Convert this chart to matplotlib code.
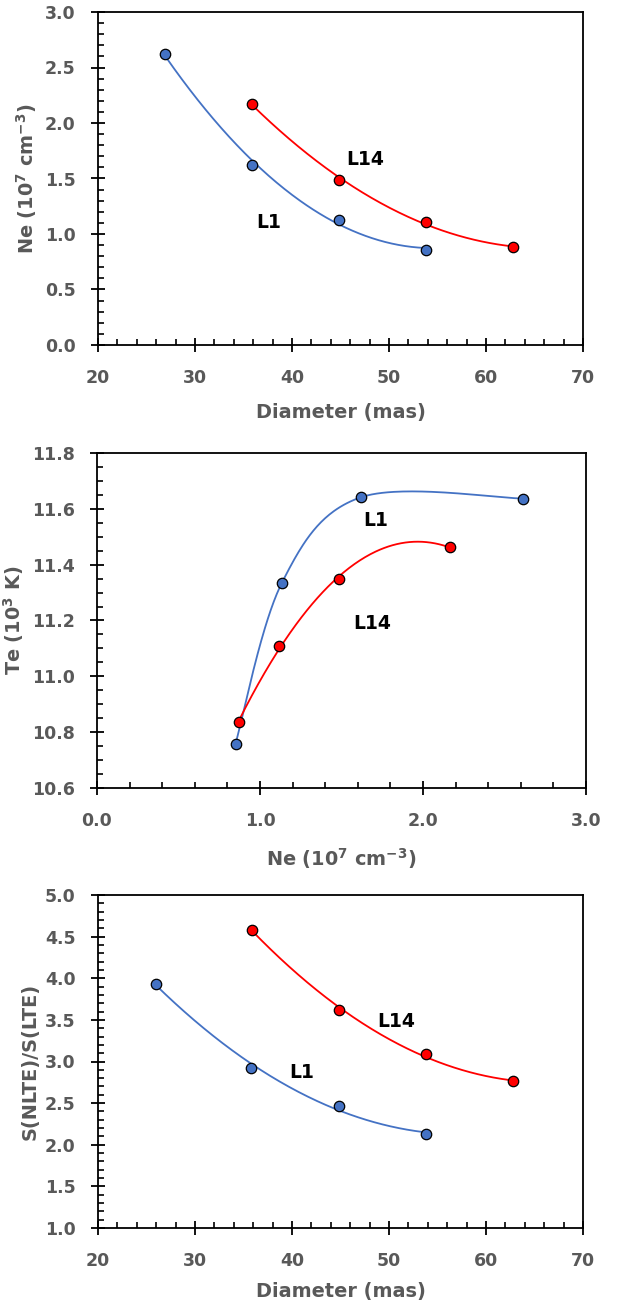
import numpy as np
from matplotlib import pyplot as plt
from matplotlib.ticker import MultipleLocator

plt.rcParams["font.family"] = ["DejaVu Sans"]
plt.rcParams["font.weight"] = "bold"
plt.rcParams["mathtext.fontset"] = "dejavusans"
plt.rcParams["mathtext.default"] = "bf"

GRAY = "#595959"
BLUE = "#4472C4"
RED = "#FF0000"

# panel 1: Ne vs diameter
diam_l1 = [26.9, 35.9, 44.8, 53.8]
ne_l1 = [2.62, 1.62, 1.13, 0.86]
diam_l14 = [35.9, 44.8, 53.8, 62.8]
ne_l14 = [2.17, 1.49, 1.11, 0.88]

# panel 2: Te vs Ne
te_ne_l1 = [0.85, 1.135, 1.617, 2.612]
te_l1 = [10.759, 11.336, 11.641, 11.637]
te_ne_l14 = [0.872, 1.116, 1.484, 2.164]
te_l14 = [10.837, 11.109, 11.350, 11.463]

# panel 3: S(NLTE)/S(LTE) vs diameter
s_diam_l1 = [26.0, 35.8, 44.8, 53.8]
s_l1 = [3.93, 2.92, 2.47, 2.13]
s_diam_l14 = [35.9, 44.8, 53.8, 62.8]
s_l14 = [4.58, 3.62, 3.09, 2.76]


def smooth(x, y, n=60):
    # excel-like smoothed line: bezier segments, tangents from neighbours / 6
    p = np.column_stack([x, y]).astype(float)
    ext = np.vstack([p[0], p, p[-1]])
    t = np.linspace(0, 1, n)[:, None]
    out = []
    for i in range(len(p) - 1):
        a, b = p[i], p[i + 1]
        c1 = a + (ext[i + 2] - ext[i]) / 6
        c2 = b - (ext[i + 3] - ext[i + 1]) / 6
        out.append((1 - t) ** 3 * a + 3 * (1 - t) ** 2 * t * c1 + 3 * (1 - t) * t ** 2 * c2 + t ** 3 * b)
    out = np.vstack(out)
    return out[:, 0], out[:, 1]


def trend(ax, x, y, deg, color):
    if deg == 0:
        xs, ys = smooth(x, y)
    else:
        c = np.polyfit(x, y, deg)
        xs = np.linspace(min(x), max(x), 200)
        ys = np.polyval(c, xs)
    ax.plot(xs, ys, color=color, lw=1.3, zorder=2)
    ax.plot(x, y, "o", ms=7.5, mfc=color, mec="black", mew=0.9, zorder=3)


def style(ax, xlim, ylim, xmaj, xmin, ymaj, ymin, xfmt, yfmt):
    ax.set_xlim(*xlim)
    ax.set_ylim(*ylim)
    ax.xaxis.set_major_locator(MultipleLocator(xmaj))
    ax.xaxis.set_minor_locator(MultipleLocator(xmin))
    ax.yaxis.set_major_locator(MultipleLocator(ymaj))
    ax.yaxis.set_minor_locator(MultipleLocator(ymin))
    ax.xaxis.set_major_formatter(xfmt)
    ax.yaxis.set_major_formatter(yfmt)
    for s in ax.spines.values():
        s.set_linewidth(1.3)
    ax.tick_params(which="major", direction="inout", length=10, width=1.3,
                   labelsize=12.5, labelcolor=GRAY)
    ax.tick_params(which="minor", direction="in", length=4, width=1.2)
    ax.tick_params(axis="y", which="major", pad=11)
    ax.tick_params(axis="x", which="major", pad=12)


def lbl(ax, xl, yl, xpad, ypad):
    ax.set_xlabel(xl, fontsize=13.9, color=GRAY, fontweight="bold", labelpad=xpad)
    ax.set_ylabel(yl, fontsize=13.9, color=GRAY, fontweight="bold", labelpad=ypad)


def note(ax, x, y, s):
    ax.text(x, y, s, fontsize=13.5, fontweight="bold", ha="center", va="center")


fig = plt.figure(figsize=(6.17, 13.11), dpi=100)

ax1 = fig.add_axes([98 / 617, 1 - 345 / 1311, 485 / 617, 333 / 1311])
trend(ax1, diam_l1, ne_l1, 2, BLUE)
trend(ax1, diam_l14, ne_l14, 2, RED)
style(ax1, (20, 70), (0, 3), 10, 2, 0.5, 0.1, "{x:.0f}", "{x:.1f}")
lbl(ax1, "Diameter (mas)", "Ne (10$^{7}$ cm$^{-3}$)", 12, 4)
note(ax1, 47.5, 1.67, "L14")
note(ax1, 37.6, 1.1, "L1")

ax2 = fig.add_axes([97 / 617, 1 - 788 / 1311, 489 / 617, 335 / 1311])
trend(ax2, te_ne_l1, te_l1, 0, BLUE)
trend(ax2, te_ne_l14, te_l14, 2, RED)
style(ax2, (0, 3), (10.6, 11.8), 1.0, 0.2, 0.2, 0.05, "{x:.1f}", "{x:.1f}")
lbl(ax2, "Ne (10$^{7}$ cm$^{-3}$)", "Te (10$^{3}$ K)", 12, 4)
note(ax2, 1.71, 11.558, "L1")
note(ax2, 1.69, 11.188, "L14")

ax3 = fig.add_axes([98 / 617, 1 - 1228 / 1311, 485 / 617, 333 / 1311])
trend(ax3, s_diam_l1, s_l1, 2, BLUE)
trend(ax3, s_diam_l14, s_l14, 2, RED)
style(ax3, (20, 70), (1, 5), 10, 2, 0.5, 0.1, "{x:.0f}", "{x:.1f}")
lbl(ax3, "Diameter (mas)", "S(NLTE)/S(LTE)", 9, 4)
note(ax3, 50.7, 3.48, "L14")
note(ax3, 41.0, 2.87, "L1")

fig.savefig("out.png", dpi=100)
